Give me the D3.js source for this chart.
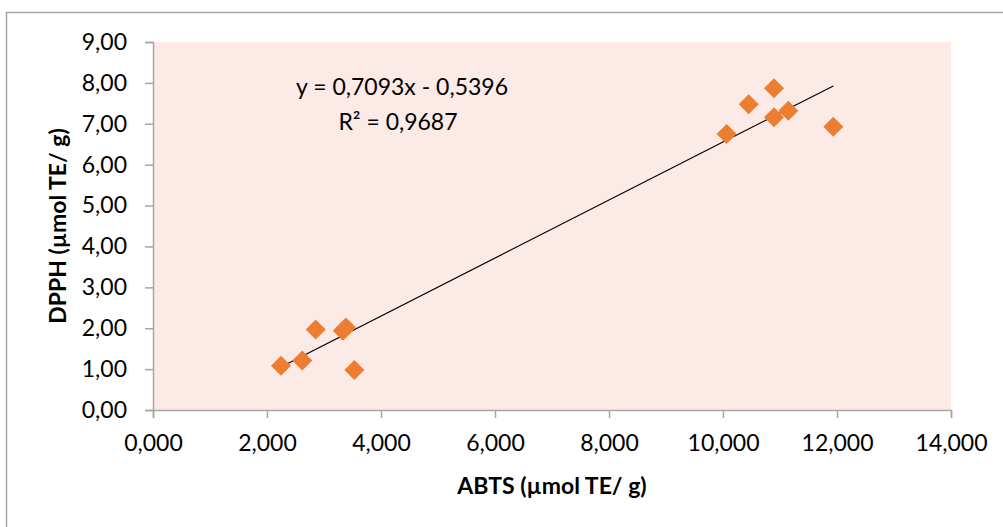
<!DOCTYPE html>
<html>
<head>
<meta charset="utf-8">
<script src="https://cdn.jsdelivr.net/npm/d3@7"></script>
<style>
  body { margin: 0; background: #fff; }
  text { font-family: Lato, "Open Sans", sans-serif; fill: #000; }
</style>
</head>
<body>
<svg id="chart" width="1003" height="527"></svg>
<script>
// ABTS (x, in µmol TE/g) vs DPPH (y)
var abts = [2246, 2619, 2854, 3330, 3386, 3532, 10064, 10451, 10895, 10895, 11146, 11935];
var dpph = [1.08, 1.21, 1.97, 1.94, 2.02, 0.98, 6.75, 7.48, 7.87, 7.16, 7.32, 6.93];
var xTicks = [0, 2000, 4000, 6000, 8000, 10000, 12000, 14000];
var yTicks = [0, 1, 2, 3, 4, 5, 6, 7, 8, 9];
var slope = 0.7093, intercept = -0.5396; // x in thousands
var eqLabel = "y = 0,7093x - 0,5396";
var r2Label = "R² = 0,9687";

var margin = {left: 153, top: 42, right: 52, bottom: 117},
    width = 1003, height = 527;

var svg = d3.select("#chart");

// outer chart frame
svg.append("rect")
  .attr("x", 6.5).attr("y", 12.5)
  .attr("width", 1010).attr("height", 530)
  .attr("fill", "none").attr("stroke", "#a6a6a6").attr("stroke-width", 1.5);

var x = d3.scaleLinear().domain([0, 14000]).range([margin.left, width - margin.right]);
var y = d3.scaleLinear().domain([0, 9]).range([height - margin.bottom, margin.top]);

// plot area
svg.append("rect")
  .attr("x", x(0)).attr("y", y(9))
  .attr("width", x(14000) - x(0)).attr("height", y(0) - y(9))
  .attr("fill", "#fbeae6");

var fmtY = function(d) { return d3.format(".2f")(d).replace(".", ","); };

var xAxis = svg.append("g")
  .attr("transform", "translate(0," + y(0) + ")")
  .call(d3.axisBottom(x).tickValues(xTicks).tickSize(8).tickFormat(function(d) { return (d / 1000).toFixed(3).replace(".", ","); }));
xAxis.selectAll("text").attr("dy", "1.3em").style("font-size", "23px");

var yAxis = svg.append("g")
  .attr("transform", "translate(" + x(0) + ",0)")
  .call(d3.axisLeft(y).tickValues(yTicks).tickSize(8).tickFormat(fmtY));
yAxis.selectAll("text").attr("x", -26).style("font-size", "23px");

svg.selectAll(".domain, .tick line").attr("stroke", "#a6a6a6").attr("stroke-width", 1.5);

// trend line across the data range
var xMin = d3.min(abts), xMax = d3.max(abts);
svg.append("line")
  .attr("x1", x(xMin)).attr("y1", y(slope * xMin / 1000 + intercept))
  .attr("x2", x(xMax)).attr("y2", y(slope * xMax / 1000 + intercept))
  .attr("stroke", "#000").attr("stroke-width", 1.2);

// diamond markers
var diamond = d3.symbol().type(d3.symbolSquare).size(200);
svg.selectAll(".pt")
  .data(abts)
  .enter()
  .append("path")
  .attr("class", "pt")
  .attr("d", diamond)
  .attr("transform", function(d, i) { return "translate(" + x(d) + "," + y(dpph[i]) + ") rotate(45)"; })
  .attr("fill", "#ed7d31");

// regression label
svg.append("text").attr("x", 402).attr("y", 95).attr("text-anchor", "middle")
  .style("font-size", "23px").text(eqLabel);
svg.append("text").attr("x", 398).attr("y", 130).attr("text-anchor", "middle")
  .style("font-size", "23px").text(r2Label);

// axis titles
svg.append("text").attr("x", 552).attr("y", 494).attr("text-anchor", "middle")
  .style("font-size", "23px").style("font-weight", "bold").text("ABTS (µmol TE/ g)");
svg.append("text").attr("transform", "translate(66,226) rotate(-90)").attr("text-anchor", "middle")
  .style("font-size", "23px").style("font-weight", "bold").text("DPPH (µmol TE/ g)");
</script>
</body>
</html>
